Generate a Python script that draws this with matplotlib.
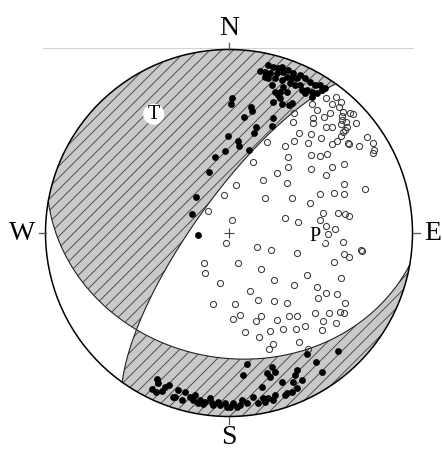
import numpy as np
import matplotlib
matplotlib.use("Agg")
import matplotlib.pyplot as plt
from matplotlib.patches import Polygon, Circle
from matplotlib.collections import LineCollection

# Equal-area (Schmidt) net, lower hemisphere; primitive circle radius in net units
NET_R = 183.5

# Nodal planes: strike / dip (right-hand rule)
plane_strike = [215.6, 100.0]
plane_dip = [75.0, 32.5]

# Compressional first motions (east, north on the net)
up_e = [3, 2, 22, 23, 15, 44, 46, 51, 53, 60, 44, 43, 27, 25, -1, 9, 10, 20, -4, -14,
        -20, -33, -37, -31,
        39, 44, 49, 53, 36, 41, 48, 54, 59, 64, 58, 63, 68, 71, 76, 81, 86, 91, 93, 88,
        83, 78, 73, 71, 66, 61, 76, 53, 46, 39, 43, 54, 58, 49, 51, 63, 83, 96, 31, 36,
        -72, -71, -77, -73, -67, -64, -60, -51, -44, -54, -47, -39, -34, -36, -29, -31,
        -24, -19, -17, -11, -9, -4, 1, 4, 13, 18, 14, 11, 24, 29, 34, 38, 33, 78, 109,
        87, 93, 43, 46, 41, 68, 66, 53, 64, 73, 68, 63, 56, 46, 44, 39, 36, 58, 18, 8,
        -2, -26, -16, -56]
up_n = [135, 129, 126, 122, 116, 131, 141, 141, 129, 128, 115, 107, 106, 100, 97, 92, 87, 83, 82, 76,
        61, 36, 19, -2,
        168, 166, 165, 166, 161, 160, 160, 161, 163, 160, 156, 155, 155, 158, 155, 151, 148, 148, 143, 140,
        141, 143, 143, 148, 148, 150, 140, 153, 155, 155, 148, 146, 141, 138, 135, 130, 136, 145, 162, 156,
        -146, -150, -156, -159, -158, -154, -152, -157, -159, -164, -167, -164, -162, -167, -167, -170,
        -169, -165, -170, -169, -172, -170, -174, -170, -167, -131, -142, -172, -164, -170, -165, -140, -154, -121, -118,
        -129, -139, -134, -139, -144, -137, -142, -149, -149, -147, -155, -159, -162, -162, -167, -165, -169, -160, -170, -174,
        -174, -171, -172, -164]

# Dilatational first motions (east, north on the net)
down_e = [59, 82, 91, 98, 144, 24, 59, 82, 103, 115, 48, 97, 34, 58, 115, 7, -5, 36, 63, 91,
          105, 115, 136, 81, -21, 3, 56, 69, 94, 91, 109, 116, 120, 97, 106, 99, 96, 114, -3, 28,
          42, 132, 133, 68, 115, 120, -25, 9, 105, -24, 32, 78, 112, -9, 45, 65, 88, 21, 97, 108,
          89, -16, 6, 29, 45, 58, 116, 11, 4, 32, 27, 48, 60, 68, 86, 100, 111, 115, 94, 107,
          16, 41, 54, 67, 76, 93, 30, 44, 70, 40, 79, 38, 56, 83, 97, 107, 112, 103, 110, 88,
          101, 114, 121, 113, 65, 84, 95, 113, 124, 117, 127, 64, 84, 112, 118, 97, 103, 114, 70, 82,
          65, 79, 92, 112, 116, 103, 108, 138, 144, 119, 120, 130, 145]
down_n = [76, 78, 77, 79, 80, 71, 66, 64, 66, 69, 60, 58, 53, 50, 49, 48, 38, 35, 35, 39,
          40, 39, 44, 30, 22, 13, 15, 11, 20, 13, 20, 19, 17, 7, 4, -1, -10, -9, -10, -14,
          -17, -17, -18, -20, -21, -24, -30, -30, -29, -40, -36, -42, -45, -50, -47, -52, -54, -58, -60, -61,
          -65, -71, -71, -67, -68, -70, -70, -82, -86, -83, -88, -87, -83, -83, -80, -80, -79, -80, -88, -90,
          -99, -98, -96, -96, -93, -97, -104, -111, -109, -116, -116, 91, 87, 129, 135, 136, 131, 129, 126, 123,
          120, 121, 120, 117, 120, 115, 116, 113, 119, 111, 110, 111, 110, 109, 106, 106, 106, 101, 100, 99,
          92, 90, 95, 97, 103, 89, 92, 96, 90, 90, 89, 87, 83]

compass_labels = ["N", "E", "S", "W"]
compass_az = [0, 90, 180, 270]


def project(trend, plunge):
    """Lower-hemisphere equal-area projection of a line (degrees)."""
    tr = np.radians(trend)
    r = NET_R * np.sqrt(2.0) * np.sin(np.radians(90.0 - np.asarray(plunge)) / 2.0)
    return r * np.sin(tr), r * np.cos(tr)


def vec_to_line(v):
    v = np.atleast_2d(v)
    plunge = np.degrees(np.arcsin(np.clip(v[:, 2], -1, 1)))
    trend = np.degrees(np.arctan2(v[:, 0], v[:, 1]))
    return trend, plunge


def plane_axes(strike, dip):
    s, d = np.radians(strike), np.radians(dip)
    sh = np.array([np.sin(s), np.cos(s), 0.0])
    dh = np.array([np.cos(d) * np.sin(s + np.pi / 2), np.cos(d) * np.cos(s + np.pi / 2), np.sin(d)])
    return sh, dh


def plane_curve(strike, dip, t0=0.0, t1=np.pi, n=300):
    sh, dh = plane_axes(strike, dip)
    t = np.linspace(t0, t1, n)
    v = np.outer(np.cos(t), sh) + np.outer(np.sin(t), dh)
    return project(*vec_to_line(v))


def arc(a0, a1, n=300):
    th = np.radians(np.linspace(a0, a1, n))
    return NET_R * np.sin(th), NET_R * np.cos(th)


def pole(strike, dip):
    tr, pl = np.radians(strike - 90.0), np.radians(90.0 - dip)
    return np.array([np.cos(pl) * np.sin(tr), np.cos(pl) * np.cos(tr), np.sin(pl)])


s1, s2 = plane_strike
d1, d2 = plane_dip
p1, p2 = pole(s1, d1), pole(s2, d2)

# null axis (intersection of the planes)
b_axis = np.cross(p1, p2)
b_axis /= np.linalg.norm(b_axis)
if b_axis[2] < 0:
    b_axis = -b_axis
sh1, _ = plane_axes(s1, d1)
sh2, _ = plane_axes(s2, d2)
tb1 = np.arccos(np.dot(b_axis, sh1))
tb2 = np.arccos(np.dot(b_axis, sh2))

# P and T axes from the poles
def lower(v):
    v = v / np.linalg.norm(v)
    return -v if v[2] < 0 else v

t_axis = lower(p1 - p2)
p_axis = lower(p1 + p2)

fig = plt.figure(figsize=(4.42, 4.5), dpi=100)
ax = fig.add_axes([0, 0, 1, 1])
ax.set_xlim(-229, 213)
ax.set_ylim(-217, 233)
ax.axis("off")

GRAY = "#c9c9c9"

# region on the dip side of plane 1
cx, cy = plane_curve(s1, d1)
ax_, ay_ = arc(s1 + 180.0, s1, 300)
regA = np.column_stack([np.r_[cx, ax_], np.r_[cy, ay_]])
# region on the dip side of plane 2
cx2, cy2 = plane_curve(s2, d2)
bx_, by_ = arc(s2 + 180.0, s2, 300)
regB = np.column_stack([np.r_[cx2, bx_], np.r_[cy2, by_]])
# overlap of the two (dilatational)
g1x, g1y = plane_curve(s1, d1, 0.0, tb1)
g2x, g2y = plane_curve(s2, d2, tb2, np.pi)
ox, oy = arc(s2 + 180.0, s1 + 360.0 if s1 < s2 else s1, 200)
regAB = np.column_stack([np.r_[g1x, g2x, ox], np.r_[g1y, g2y, oy]])

hatch_ang = np.radians(45.0)
hatch_step = 11.7
cs = np.arange(-500, 500, hatch_step)
xs = np.array([-260.0, 260.0])
hatch_segs = [np.column_stack([xs, xs * np.tan(hatch_ang) + c]) for c in cs]

for reg in (regA, regB):
    patch = Polygon(reg, closed=True, facecolor=GRAY, edgecolor="none", zorder=1)
    ax.add_patch(patch)
    lc = LineCollection(hatch_segs, colors="#3c3c3c", linewidths=0.6, zorder=2)
    lc.set_clip_path(patch)
    ax.add_collection(lc)

ax.add_patch(Polygon(regAB, closed=True, facecolor="white", edgecolor="none", zorder=3))

ax.plot(cx, cy, color="#222222", lw=0.8, zorder=4)
ax.plot(cx2, cy2, color="#222222", lw=0.8, zorder=4)

# primitive circle
ax.add_patch(Circle((0, 0), NET_R, facecolor="none", edgecolor="black", lw=1.1, zorder=5))

# top rule
ax.plot([-186, 184], [NET_R + 1.2, NET_R + 1.2], color="#d4d4d4", lw=0.8, zorder=0)

# compass ticks and labels
for lab, az in zip(compass_labels, compass_az):
    a = np.radians(az)
    ax.plot([NET_R * np.sin(a), (NET_R + 7) * np.sin(a)],
            [NET_R * np.cos(a), (NET_R + 7) * np.cos(a)], color="#555555", lw=0.9, zorder=5)
    off = {"N": 21, "S": 21, "E": 20, "W": 23}[lab]
    ax.text((NET_R + off) * np.sin(a), (NET_R + off) * np.cos(a), lab,
            ha="center", va="center", fontsize=20,
            family=["Liberation Serif", "DejaVu Serif"], zorder=6)

# centre mark
ax.plot([0], [0], marker="+", ms=7, mew=0.8, color="#444444", zorder=5)

# first motions
ax.plot(down_e, down_n, ls="none", marker="o", ms=4.4, mew=0.75, mfc="none",
        mec="#3a3a3a", zorder=6)
ax.plot(up_e, up_n, ls="none", marker="o", ms=4.9, mew=0.0, mfc="black", zorder=6)

# P and T axes
for vec, lab in ((t_axis, "T"), (p_axis, "P")):
    tr, pl = vec_to_line(vec)
    x, y = project(tr[0], pl[0])
    ax.add_patch(Circle((x, y), 10.5, facecolor="white", edgecolor="none", zorder=7))
    ax.text(x, y - 0.5, lab, ha="center", va="center", fontsize=14.5,
            family=["Liberation Serif", "DejaVu Serif"], zorder=8)

fig.savefig("out.png", dpi=100)
